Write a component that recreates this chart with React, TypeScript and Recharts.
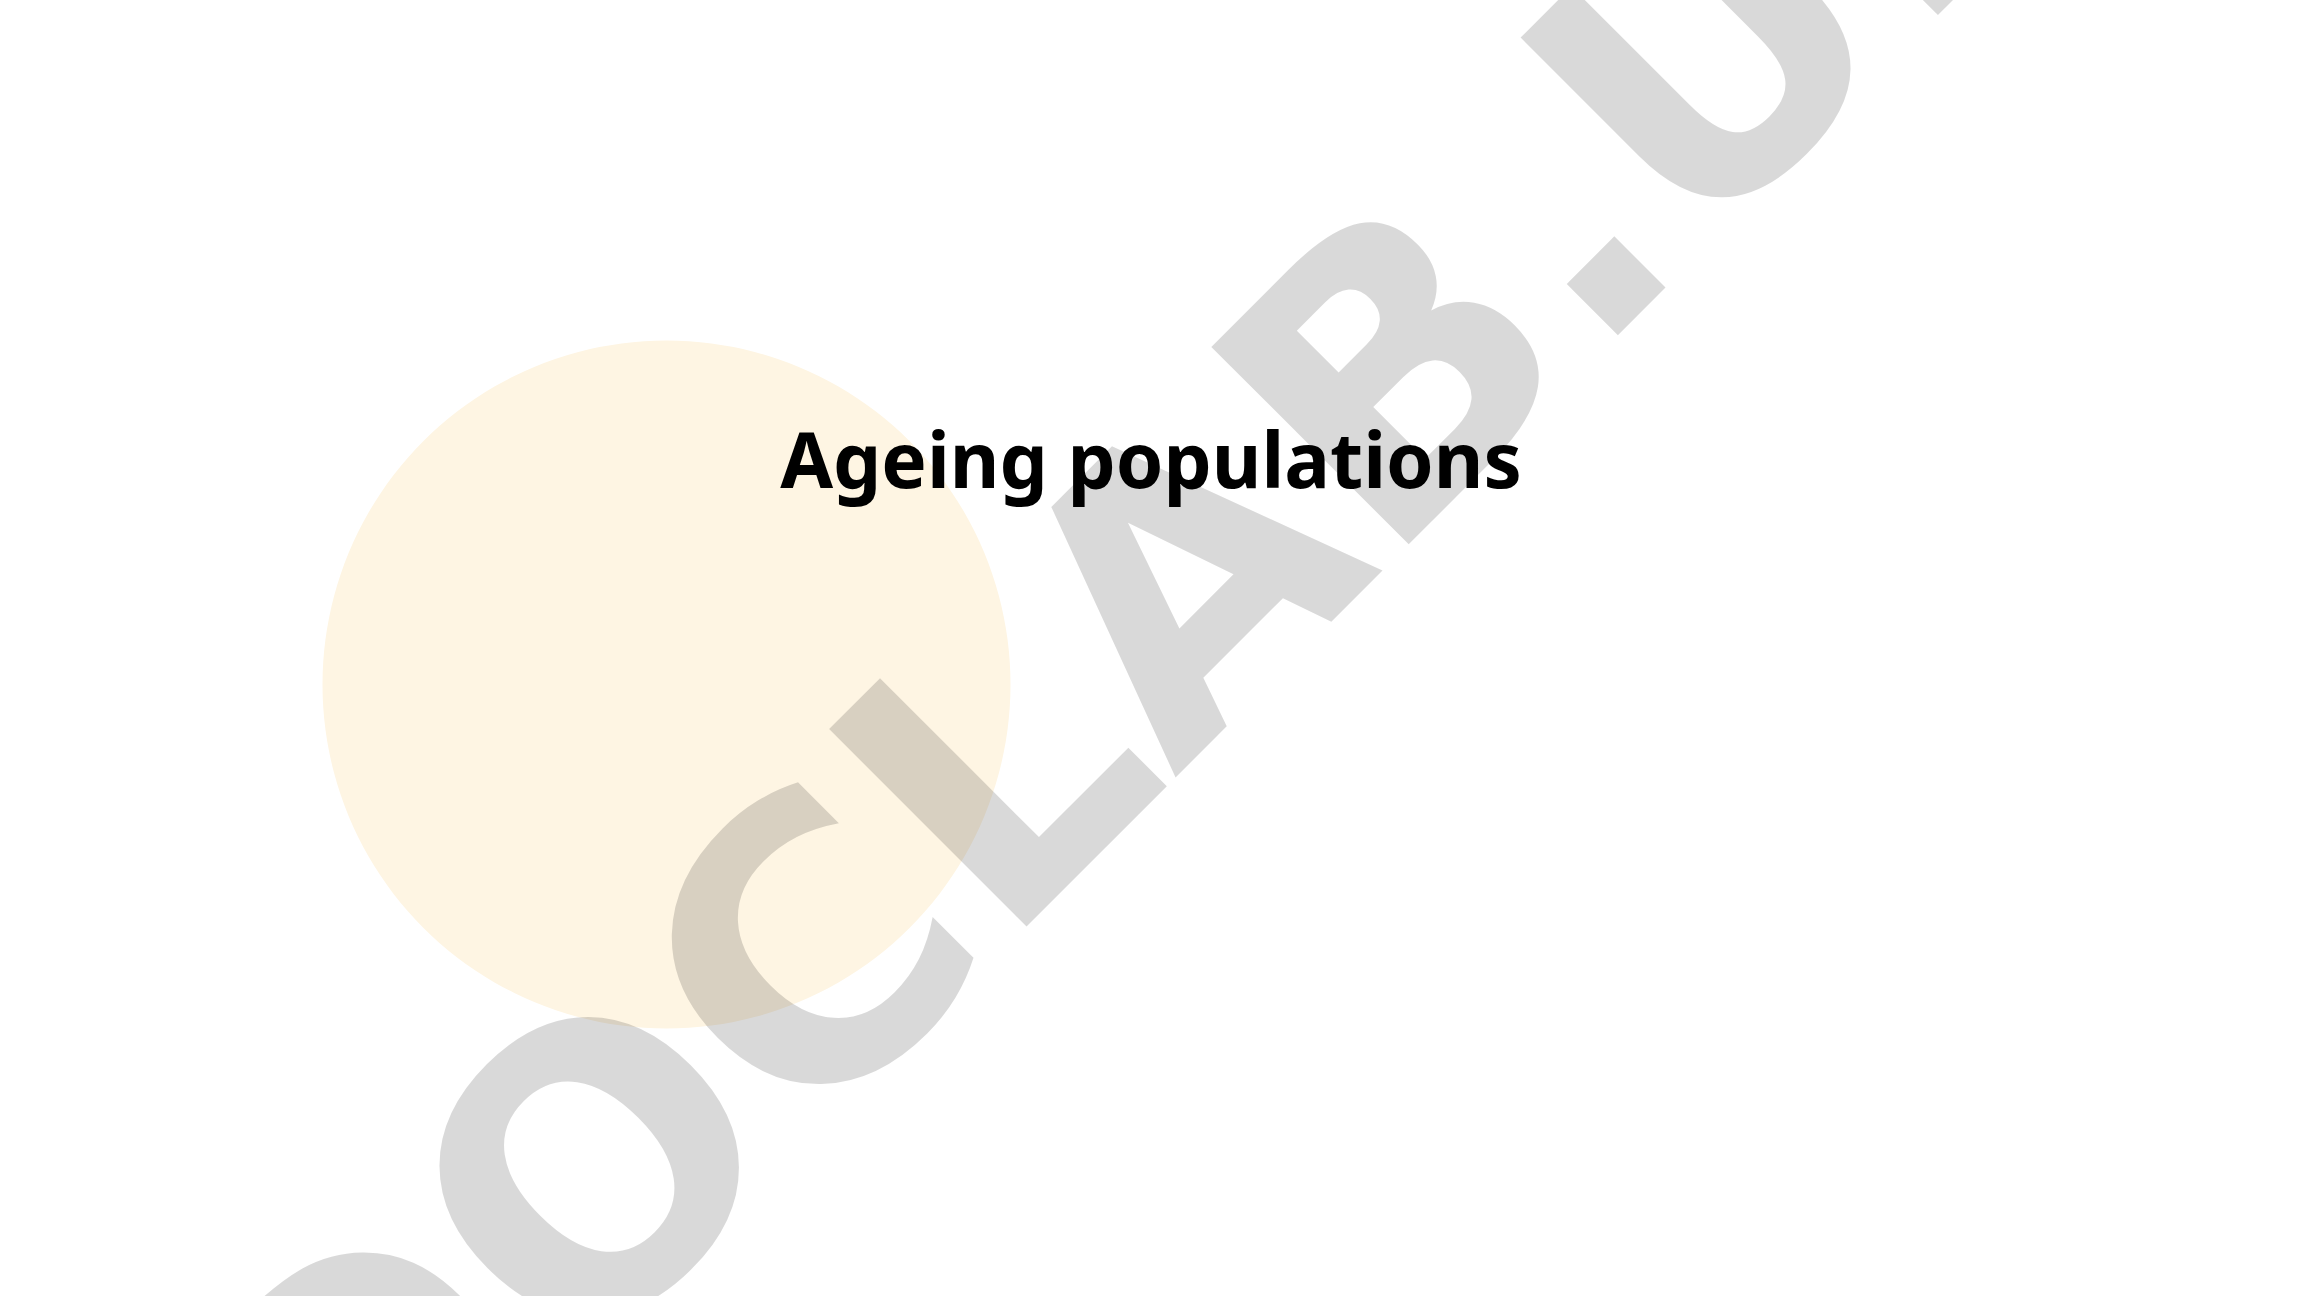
import React from 'react';
import { PieChart, Pie, Cell } from 'recharts';

const categories = ['Ageing populations'];
const values = [100];
const colors = ['#FEF5E3'];

const chartTitle = 'Ageing populations';
const watermarkText = 'DOCLAB.UI';

const data = categories.map((name, i) => ({ name, value: values[i] }));

export default function App() {
  return (
    <div style={{ position: 'absolute', left: 0, top: 0, width: 2304, height: 1296, overflow: 'hidden', background: '#ffffff' }}>
      <div style={{ position: 'absolute', left: 0, top: 0 }}>
        <PieChart width={2304} height={1296} margin={{ top: 0, right: 0, bottom: 0, left: 0 }}>
          <Pie
            data={data}
            dataKey="value"
            nameKey="name"
            cx={666.5}
            cy={684.5}
            innerRadius={0}
            outerRadius={344}
            startAngle={90}
            endAngle={-270}
            stroke="none"
            isAnimationActive={false}
          >
            {data.map((d, i) => (
              <Cell key={d.name} fill={colors[i]} stroke="none" />
            ))}
          </Pie>
        </PieChart>
      </div>
      <svg width={2304} height={1296} style={{ position: 'absolute', left: 0, top: 0, pointerEvents: 'none' }}>
        <text
          x={-889}
          y={1381}
          transform="rotate(-45)"
          textAnchor="start"
          fontFamily="'DejaVu Sans', sans-serif"
          fontWeight={700}
          fontSize={383}
          fill="rgba(0,0,0,0.15)"
        >
          {watermarkText}
        </text>
        <text
          x={1151}
          y={488}
          textAnchor="middle"
          fontFamily="'Noto Sans', sans-serif"
          fontWeight={700}
          fontSize={76.4}
          fill="#000000"
        >
          {chartTitle}
        </text>
      </svg>
    </div>
  );
}
